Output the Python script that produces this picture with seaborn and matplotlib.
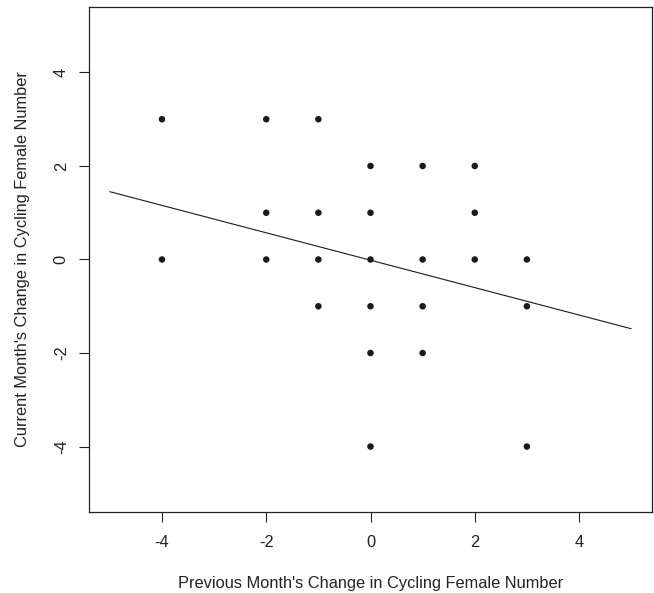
import matplotlib
matplotlib.use("Agg")
import matplotlib.pyplot as plt
import seaborn as sns
import numpy as np
import pandas as pd

# Data
prev_change = [-4, -4, -2, -2, -2, -1, -1, -1, -1, 0, 0, 0, 0, 0, 0,
               1, 1, 1, 1, 2, 2, 2, 3, 3, 3]
curr_change = [3, 0, 3, 1, 0, 3, 1, 0, -1, 2, 1, 0, -1, -2, -4,
               2, 0, -1, -2, 2, 1, 0, 0, -1, -4]
fit_intercept = -0.015
fit_slope = -0.293
fit_x = [-5, 5]
tick_values = [-4, -2, 0, 2, 4]
tick_labels = ["-4", "-2", "0", "2", "4"]

sns.set_theme(style="white")
plt.rcParams['font.family'] = ['Liberation Sans', 'DejaVu Sans']
plt.rcParams['axes.unicode_minus'] = False

df = pd.DataFrame({"prev": prev_change, "curr": curr_change})
fit_df = pd.DataFrame({"x": fit_x,
                       "y": [fit_intercept + fit_slope * v for v in fit_x]})

fig = plt.figure(figsize=(6.54, 5.93), dpi=100)
ax = fig.add_axes([89/654, 1 - 512/593, (652 - 89)/654, (512 - 7)/593])

sns.scatterplot(data=df, x="prev", y="curr", ax=ax, color="#1a1a1a",
                s=22, edgecolor="none", linewidth=0)
sns.lineplot(data=fit_df, x="x", y="y", ax=ax, color="#1a1a1a", linewidth=0.8)

ax.set_xlim(-5.4, 5.4)
ax.set_ylim(-5.4, 5.4)
ax.set_xticks(tick_values)
ax.set_xticklabels(tick_labels)
ax.set_yticks(tick_values)
ax.set_yticklabels(tick_labels, rotation=90, va="center")

for sp in ax.spines.values():
    sp.set_visible(True)
    sp.set_color("#222222")
    sp.set_linewidth(0.9)

fs = 11.8
ax.tick_params(axis="both", which="both", direction="out", length=7.5,
               width=0.8, color="#222222", labelsize=fs, labelcolor="#222222",
               bottom=True, left=True, top=False, right=False)
ax.tick_params(axis="x", pad=9)
ax.tick_params(axis="y", pad=7)

ax.set_xlabel("Previous Month's Change in Cycling Female Number",
              fontsize=fs, color="#222222", labelpad=19)
ax.set_ylabel("Current Month's Change in Cycling Female Number",
              fontsize=fs, color="#222222", labelpad=17)

fig.savefig("out.png", dpi=100)
